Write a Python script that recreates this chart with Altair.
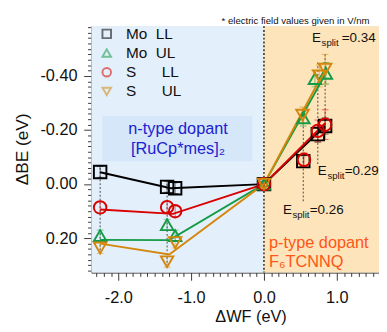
import altair as alt
import pandas as pd
import numpy as np

# ---------------- data ----------------
series = ["Mo LL", "Mo UL", "S LL", "S UL"]
colors = ["#000000", "#159a45", "#d90000", "#d4870c"]
shapes = ["square", "triangle-up", "circle", "triangle-down"]

mo_ll_x = [-2.25, -1.33, -1.22, 0.0, 0.54, 0.74, 0.84]
mo_ll_y = [-0.045, 0.010, 0.015, 0.0, -0.085, -0.185, -0.215]
mo_ll_e = [0.02, 0.02, 0.02, 0.01, 0.02, 0.03, 0.03]

mo_ul_x = [-2.25, -1.33, -1.22, 0.0, 0.54, 0.70, 0.85]
mo_ul_y = [0.190, 0.150, 0.190, 0.0, -0.245, -0.390, -0.410]
mo_ul_e = [0.02, 0.02, 0.02, 0.01, 0.03, 0.03, 0.04]

s_ll_x = [-2.25, -1.33, -1.22, 0.0, 0.55, 0.74, 0.84]
s_ll_y = [0.086, 0.085, 0.100, 0.0, -0.090, -0.197, -0.220]
s_ll_e = [0.02, 0.02, 0.02, 0.01, 0.025, 0.04, 0.055]

s_ul_x = [-2.25, -1.33, -1.22, 0.0, 0.53, 0.76, 0.84]
s_ul_y = [0.236, 0.287, 0.216, 0.0, -0.255, -0.400, -0.425]
s_ul_e = [0.02, 0.02, 0.02, 0.01, 0.03, 0.04, 0.055]

# averaged trend lines
mo_ll_line_x = [-2.25, -1.28, 0.0, 0.84]
mo_ll_line_y = [-0.044, 0.015, 0.0, -0.215]
mo_ul_line_x = [-2.25, -1.30, 0.0, 0.85]
mo_ul_line_y = [0.206, 0.207, 0.0, -0.410]
s_ll_line_x = [-2.25, -1.25, 0.0, 0.84]
s_ll_line_y = [0.094, 0.110, 0.0, -0.225]
s_ul_line_x = [-2.25, -1.30, 0.0, 0.84]
s_ul_line_y = [0.220, 0.260, 0.0, -0.425]

# dotted guide lines grouping measurements
guide_x = [-2.25, -1.33, 0.54, 0.74, 0.84]
guide_y1 = [-0.06, 0.00, -0.27, -0.45, -0.48]
guide_y2 = [0.26, 0.30, 0.065, -0.07, -0.20]

# E_split annotations
ann_x = [0.66, 0.74, 0.26]
ann_y = [-0.525, -0.032, 0.110]
ann_val = ["=0.34", "=0.29", "=0.26"]
ann_dx = [31, 28, 28]

note_text = ["* electric field values given in V/nm"]
note_x, note_y = [1.45], [-0.592]

# regions
x_min, x_max = -2.37, 1.58
y_min, y_max = -0.584, 0.327
region_x1 = [x_min, 0.0]
region_x2 = [0.0, x_max]
region_col = ["#e3f0fc", "#fde4ba"]

# n-type label box
box_x1, box_x2 = [-2.22], [-0.16]
box_y1, box_y2 = [-0.253], [-0.085]

FONT = "Liberation Sans"
col_of = dict(zip(series, colors))

# ---------------- tables ----------------
rows = []
for s, xs, ys, es in [("Mo LL", mo_ll_x, mo_ll_y, mo_ll_e), ("Mo UL", mo_ul_x, mo_ul_y, mo_ul_e),
                      ("S LL", s_ll_x, s_ll_y, s_ll_e), ("S UL", s_ul_x, s_ul_y, s_ul_e)]:
    for x, y, e in zip(xs, ys, es):
        rows.append({"series": s, "col": col_of[s], "x": x, "y": y, "lo": y - e, "hi": y + e})
pts = pd.DataFrame(rows)

lrows = []
for s, xs, ys in [("Mo LL", mo_ll_line_x, mo_ll_line_y), ("Mo UL", mo_ul_line_x, mo_ul_line_y),
                  ("S LL", s_ll_line_x, s_ll_line_y), ("S UL", s_ul_line_x, s_ul_line_y)]:
    for i, (x, y) in enumerate(zip(xs, ys)):
        lrows.append({"series": s, "col": col_of[s], "x": x, "y": y, "i": i})
lines = pd.DataFrame(lrows)

guides = pd.DataFrame({"x": guide_x, "y1": guide_y1, "y2": guide_y2})
regions = pd.DataFrame({"x1": region_x1, "x2": region_x2, "y1": [y_min] * 2, "y2": [y_max] * 2, "c": region_col})
box = pd.DataFrame({"x1": box_x1, "x2": box_x2, "y1": box_y1, "y2": box_y2})
ann = pd.DataFrame({"x": ann_x, "y": ann_y, "val": ann_val, "dx": ann_dx, "k": [0, 1, 2]})
zero = pd.DataFrame({"x": [0.0], "y1": [y_min], "y2": [y_max]})
note = pd.DataFrame({"x": note_x, "y": note_y, "t": note_text})

xticks = [round(v, 1) + 0.0 for v in np.arange(-2.3, 1.55, 0.1)]
yticks = [round(v, 2) + 0.0 for v in np.arange(-0.58, 0.33, 0.02)]

xscale = alt.Scale(domain=[x_min, x_max], nice=False, zero=False)
yscale = alt.Scale(domain=[y_min, y_max], nice=False, zero=False, reverse=True)

xmajor = "abs(datum.value - round(datum.value)) < 0.001"
ymajor = "abs(datum.value*5 - round(datum.value*5)) < 0.001"

xaxis = alt.Axis(
    values=xticks, title="\u0394WF (eV)", grid=False,
    labelExpr=f"{xmajor} ? replace(format(datum.value, '.1f'), '\u2212', '-') : ''",
    tickSize={"condition": {"test": xmajor, "value": 8}, "value": 4},
    labelFontSize=17, labelFont=FONT, labelColor="#111", labelPadding=10,
    titleFontSize=17, titleFont=FONT, titleFontWeight="normal", titleColor="#111",
    titleX=166, titleY=46, titleBaseline="middle",
    domainColor="#333", tickColor="#333", labelFlush=False, labelOverlap=False,
)
yaxis = alt.Axis(
    values=yticks, title="\u0394BE (eV)", grid=False,
    labelExpr=f"{ymajor} ? replace(format(datum.value, '.2f'), '\u2212', '-') : ''",
    tickSize={"condition": {"test": ymajor, "value": 8}, "value": 4},
    labelFontSize=17, labelFont=FONT, labelColor="#111", labelPadding=7,
    titleFontSize=18, titleFont=FONT, titleFontWeight="normal", titleColor="#111",
    titleX=-63, titleY=128, titleAlign="center",
    domainColor="#333", tickColor="#333", labelFlush=False, labelOverlap=False,
)


def X(f="x"):
    return alt.X(f"{f}:Q", scale=xscale, axis=xaxis)


def Y(f="y"):
    return alt.Y(f"{f}:Q", scale=yscale, axis=yaxis)


COL = alt.Color("col:N", scale=None)

bg = alt.Chart(regions).mark_rect().encode(
    x=X("x1"), x2="x2:Q", y=Y("y1"), y2="y2:Q", color=alt.Color("c:N", scale=None))
boxl = alt.Chart(box).mark_rect(color="#d5e7f9").encode(x=X("x1"), x2="x2:Q", y=Y("y1"), y2="y2:Q")

zl = alt.Chart(zero).mark_rule(color="#222", strokeDash=[2, 2], strokeWidth=1.5).encode(
    x=X(), y=Y("y1"), y2="y2:Q")
gl = alt.Chart(guides).mark_rule(color="#444", strokeDash=[2, 2], strokeWidth=1).encode(
    x=X(), y=Y("y1"), y2="y2:Q")

err = alt.Chart(pts).mark_rule(strokeWidth=1, opacity=0.55).encode(
    x=X(), y=Y("lo"), y2="hi:Q", color=COL)
cap_lo = alt.Chart(pts).mark_tick(orient="horizontal", size=7, thickness=1, opacity=0.55).encode(
    x=X(), y=Y("lo"), color=COL)
cap_hi = alt.Chart(pts).mark_tick(orient="horizontal", size=7, thickness=1, opacity=0.55).encode(
    x=X(), y=Y("hi"), color=COL)

ln = alt.Chart(lines).mark_line(strokeWidth=2).encode(
    x=X(), y=Y(), order="i:Q", detail="series:N", color=COL)

cscale = alt.Scale(domain=series, range=colors)
sscale = alt.Scale(domain=series, range=shapes)
legend = alt.Legend(
    title=None, orient="none", legendX=8, legendY=0, padding=0,
    labelFont=FONT, labelFontSize=16, labelColor="#111", symbolSize=80, symbolStrokeWidth=2,
    rowPadding=3, labelOffset=12,
    labelExpr="{'Mo LL':'Mo\u00a0\u00a0LL','Mo UL':'Mo\u00a0\u00a0UL','S LL':'S\u00a0\u00a0\u00a0\u00a0\u00a0\u00a0LL','S UL':'S\u00a0\u00a0\u00a0\u00a0\u00a0\u00a0UL'}[datum.label]",
)
pt = alt.Chart(pts).mark_point(filled=False, strokeWidth=2, size=170, opacity=1).encode(
    x=X(), y=Y(),
    color=alt.Color("series:N", scale=cscale, legend=legend),
    shape=alt.Shape("series:N", scale=sscale, legend=legend),
)

ann_layers = []
for k in range(len(ann_x)):
    base = alt.Chart(ann).transform_filter(f"datum.k == {k}")
    ann_layers.append(base.mark_text(align="left", baseline="alphabetic", font=FONT, fontSize=14,
                                     color="#111").encode(x=X(), y=Y(), text=alt.value("E")))
    ann_layers.append(base.mark_text(align="left", baseline="alphabetic", font=FONT, fontSize=10,
                                     color="#111", dx=10, dy=4).encode(x=X(), y=Y(), text=alt.value("split")))
    ann_layers.append(base.mark_text(align="left", baseline="alphabetic", font=FONT, fontSize=14,
                                     color="#111", dx=ann_dx[k]).encode(x=X(), y=Y(), text="val:N"))

ntype = pd.DataFrame({"x": [-1.18, -1.18], "y": [-0.203, -0.131], "t": ["n-type dopant", "[RuCp*mes]\u2082"]})
ptype = pd.DataFrame({"x": [0.07, 0.07], "y": [0.217, 0.290], "t": ["p-type dopant", "F\u2086TCNNQ"]})
nt = alt.Chart(ntype).mark_text(font=FONT, fontSize=17, color="#2020d0", baseline="middle").encode(
    x=X(), y=Y(), text="t:N")
ptx = alt.Chart(ptype).mark_text(font=FONT, fontSize=17, color="#ff5516", baseline="middle",
                                 align="left").encode(x=X(), y=Y(), text="t:N")
nt_note = alt.Chart(note).mark_text(font=FONT, fontSize=10, color="#111", align="right",
                                    baseline="alphabetic", clip=False).encode(x=X(), y=Y(), text="t:N")

chart = alt.layer(bg, boxl, zl, gl, err, cap_lo, cap_hi, ln, pt, *ann_layers, nt, ptx, nt_note).properties(
    width=300, height=257,
    autosize=alt.AutoSizeParams(type="none"),
    padding={"left": 87, "top": 12, "right": 0, "bottom": 55},
).configure_view(stroke="#999", strokeWidth=1).configure(background="white")

chart.save("out.html", embed_options={"renderer": "svg", "actions": False})
